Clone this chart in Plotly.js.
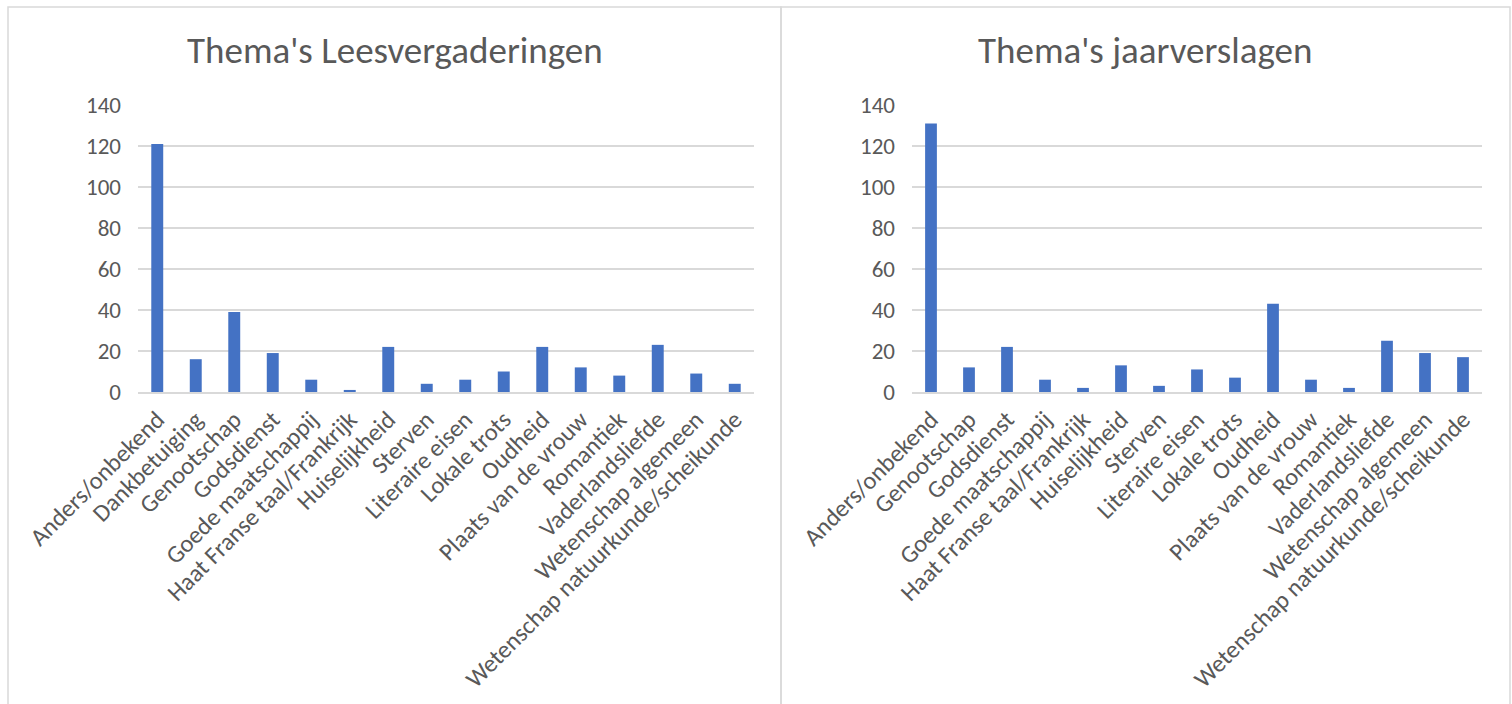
<!DOCTYPE html>
<html><head><meta charset="utf-8">
<script src="https://cdn.plot.ly/plotly-3.0.1.min.js"></script>
<style>html,body{margin:0;padding:0;background:#fff}#chart{width:1512px;height:704px}</style>
</head><body><div id="chart"></div>
<script>
const catsLees = ["Anders/onbekend","Dankbetuiging","Genootschap","Godsdienst","Goede maatschappij","Haat Franse taal/Frankrijk","Huiselijkheid","Sterven","Literaire eisen","Lokale trots","Oudheid","Plaats van de vrouw","Romantiek","Vaderlandsliefde","Wetenschap algemeen","Wetenschap natuurkunde/scheikunde"];
const valsLees = [121,16,39,19,6,1,22,4,6,10,22,12,8,23,9,4];
const catsJaar = ["Anders/onbekend","Genootschap","Godsdienst","Goede maatschappij","Haat Franse taal/Frankrijk","Huiselijkheid","Sterven","Literaire eisen","Lokale trots","Oudheid","Plaats van de vrouw","Romantiek","Vaderlandsliefde","Wetenschap algemeen","Wetenschap natuurkunde/scheikunde"];
const valsJaar = [131,12,22,6,2,13,3,11,7,43,6,2,25,19,17];
const yTicks = [0,20,40,60,80,100,120,140];
const titleLees = "Thema's Leesvergaderingen";
const titleJaar = "Thema's jaarverslagen";

const W = 1512, H = 704;
const fontFam = "Carlito, Calibri, 'Open Sans', sans-serif";
const txtCol = "#595959";
const gridCol = "#d9d9d9";
const barCol = "#4472c4";

const traces = [
  {type:"bar", x:catsLees, y:valsLees, xaxis:"x", yaxis:"y", marker:{color:barCol}, hoverinfo:"x+y"},
  {type:"bar", x:catsJaar, y:valsJaar, xaxis:"x2", yaxis:"y2", marker:{color:barCol}, hoverinfo:"x+y"}
];
const px = v => v / W;
const py = v => 1 - v / H;
const yAxisBase = {
  range:[0,140], tickvals:yTicks, showgrid:true, gridcolor:gridCol, gridwidth:1.3,
  zeroline:false, showline:false, ticks:"", ticklabelstandoff:16,
  tickfont:{size:23, color:txtCol, family:fontFam}, fixedrange:true
};
const xAxisBase = {
  type:"category", showgrid:false, zeroline:false, showline:true, linecolor:gridCol, linewidth:1.5,
  ticks:"", tickangle:-45, ticklabelstandoff:2, tickfont:{size:24.5, color:txtCol, family:fontFam}, fixedrange:true
};
const layout = {
  width:W, height:H, margin:{l:0,r:0,t:0,b:0},
  paper_bgcolor:"#fff", plot_bgcolor:"rgba(0,0,0,0)",
  showlegend:false, bargap:0.69,
  font:{family:fontFam, color:txtCol},
  xaxis:Object.assign({}, xAxisBase, {domain:[px(138), px(754)], anchor:"y"}),
  yaxis:Object.assign({}, yAxisBase, {domain:[py(392), py(105)], anchor:"x"}),
  xaxis2:Object.assign({}, xAxisBase, {domain:[px(912), px(1482)], anchor:"y2"}),
  yaxis2:Object.assign({}, yAxisBase, {domain:[py(392), py(105)], anchor:"x2"}),
  annotations:[
    {text:titleLees, xref:"paper", yref:"paper", x:px(395), y:py(50), xanchor:"center", yanchor:"middle", showarrow:false, font:{size:37, color:txtCol, family:fontFam}},
    {text:titleJaar, xref:"paper", yref:"paper", x:px(1145), y:py(50), xanchor:"center", yanchor:"middle", showarrow:false, font:{size:37, color:txtCol, family:fontFam}}
  ],
  shapes:[
    {type:"rect", xref:"paper", yref:"paper", x0:px(8), x1:px(781), y0:py(710), y1:py(7), line:{color:gridCol, width:1.5}, fillcolor:"rgba(0,0,0,0)", layer:"below"},
    {type:"rect", xref:"paper", yref:"paper", x0:px(781), x1:px(1510), y0:py(710), y1:py(7), line:{color:gridCol, width:1.5}, fillcolor:"rgba(0,0,0,0)", layer:"below"}
  ]
};
Plotly.newPlot("chart", traces, layout, {displayModeBar:false, staticPlot:true});
</script>
</body></html>
